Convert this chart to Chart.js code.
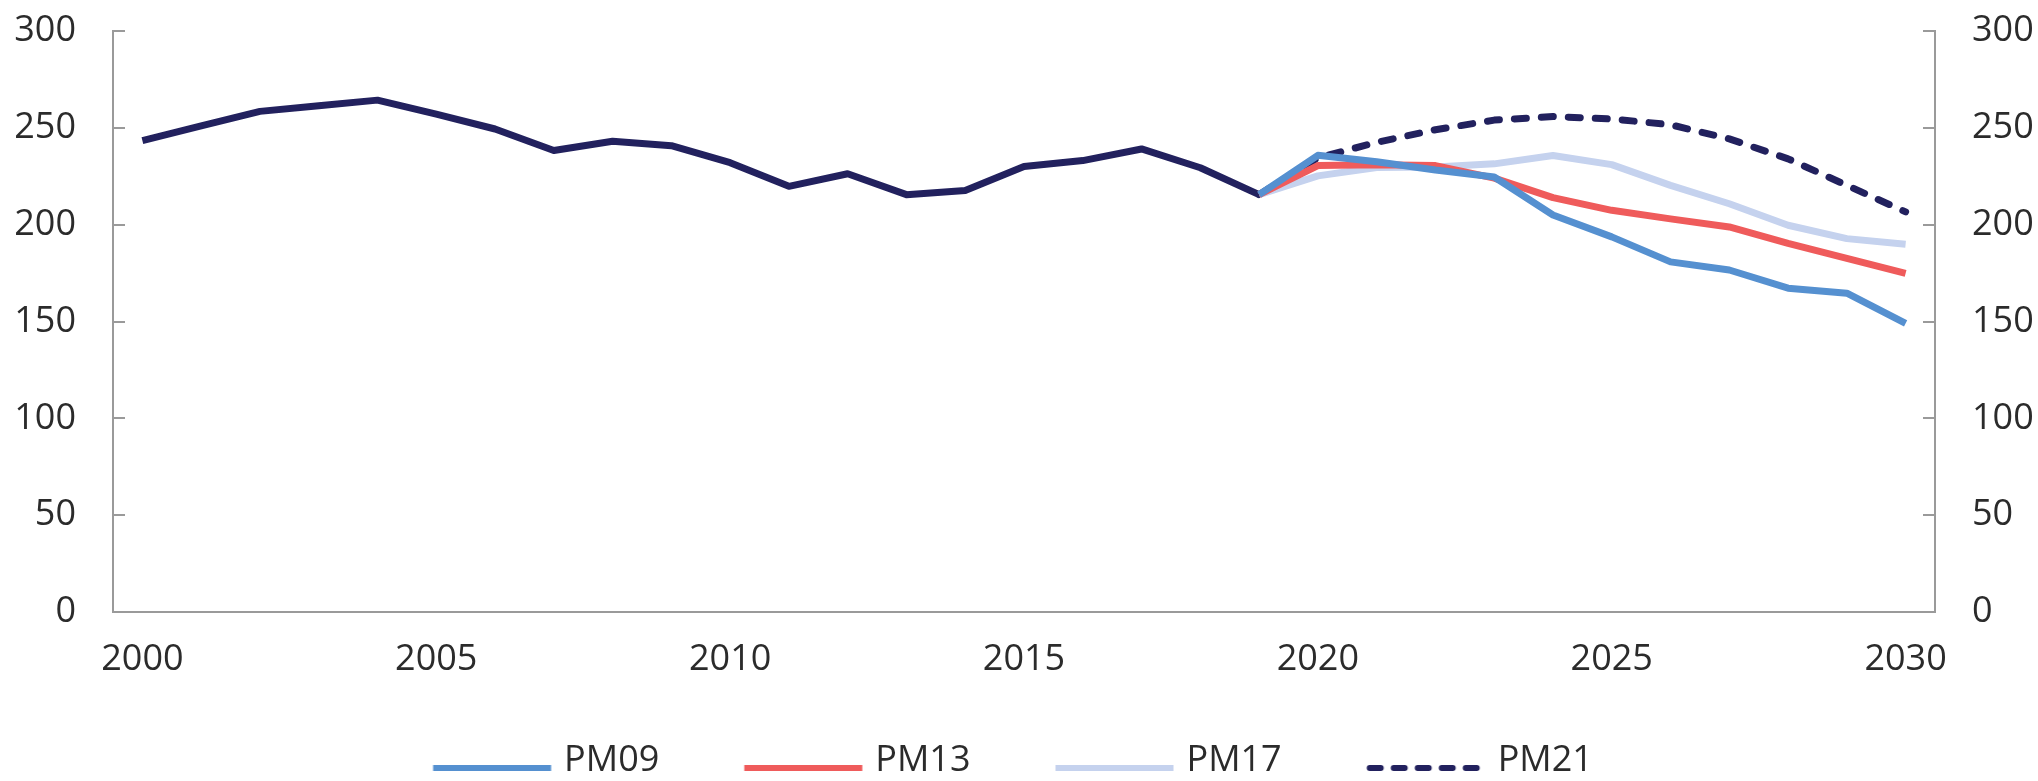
<!DOCTYPE html>
<html>
<head>
<meta charset="utf-8">
<script src="https://cdn.jsdelivr.net/npm/chart.js@4.4.1/dist/chart.umd.min.js"></script>
<style>
  html, body { margin: 0; padding: 0; background: #fff; }
  #wrap { width: 2038px; height: 781px; }
</style>
</head>
<body>
<div id="wrap"><canvas id="chart" width="2038" height="781"></canvas></div>
<script>
const years = [];
for (let y = 2000; y <= 2030; y++) years.push(String(y));
const xTickLabels = ['2000', '2005', '2010', '2015', '2020', '2025', '2030'];
const yTicks = [0, 50, 100, 150, 200, 250, 300];

// history 2000-2019
const history = [243.4, 251, 258.5, 261.4, 264.3, 257.1, 249.4, 238.3, 243.1, 240.8,
                 232, 219.8, 226.3, 215.5, 217.7, 230, 233.1, 239.1, 229.4, 215.5];
// projections 2019-2030
const pm09 = [215.5, 235.8, 232.5, 228.2, 224.6, 205, 193.7, 180.8, 176.6, 167.2, 164.6, 149];
const pm13 = [215.5, 230.5, 231, 230.5, 224, 214, 207.4, 203, 198.8, 190.3, 182.6, 174.8];
const pm17 = [215.5, 225.2, 229.5, 229.8, 231.4, 235.7, 231, 220.3, 210.8, 199.7, 192.8, 189.9];
const pm21 = [215.5, 234.5, 242.5, 249, 254, 255.8, 254.6, 251.6, 244.3, 234, 220.3, 206.6];
const legendNames = ['PM09', 'PM13', 'PM17', 'PM21'];

const navy = '#22215e';
const axisColor = '#9a9a9a';
const textColor = '#2b2b2b';
const font = { family: "'Open Sans', sans-serif", size: 36 };
const lineW = 7;
const dash = [12, 15];

const padHist = arr => arr.concat(Array(years.length - arr.length).fill(null));
const padProj = arr => Array(years.length - arr.length).fill(null).concat(arr);

// legend sample: 118px line, sitting a bit below the text middle
const sampleWidth = 131;
const makeSample = (color, lineDash) => {
  const c = document.createElement('canvas');
  c.width = 300; c.height = 60;
  const g = c.getContext('2d');
  const x0 = 150 + (18 - sampleWidth / 2);
  g.strokeStyle = color;
  g.lineWidth = 6;
  g.lineCap = lineDash ? 'round' : 'butt';
  if (lineDash) g.setLineDash([11, 13]);
  g.beginPath();
  g.moveTo(x0 + (lineDash ? 3 : 0), 37);
  g.lineTo(x0 + 118, 37);
  g.stroke();
  return c;
};

const innerTicks = {
  id: 'innerTicks',
  afterLayout(chart) {
    // legend sits slightly left of centre in the original
    chart.legend.left -= 20;
    chart.legend.right -= 20;
  },
  afterDraw(chart) {
    const ctx = chart.ctx;
    const area = chart.chartArea;
    ctx.save();
    ctx.strokeStyle = axisColor;
    ctx.lineWidth = 2;
    ['y', 'y2'].forEach(id => {
      const s = chart.scales[id];
      const x0 = id === 'y' ? area.left : area.right;
      const dir = id === 'y' ? 1 : -1;
      s.ticks.forEach(t => {
        const py = Math.round(s.getPixelForValue(t.value));
        ctx.beginPath();
        ctx.moveTo(x0, py);
        ctx.lineTo(x0 + dir * 12, py);
        ctx.stroke();
      });
    });
    ctx.restore();
  }
};

const line = (label, data, color, extra) => Object.assign({
  label, data, borderColor: color, backgroundColor: color,
  borderWidth: lineW, pointRadius: 0, tension: 0, fill: false,
  borderJoinStyle: 'round'
}, extra || {});

const yAxis = (position) => ({
  position, min: 0, max: 300,
  afterBuildTicks: s => { s.ticks = yTicks.map(v => ({ value: v })); },
  afterFit: s => { s.width = 99; s.paddingTop = 0; s.paddingBottom = 0; },
  grid: { display: false, drawTicks: false },
  border: { display: true, color: axisColor, width: 2 },
  ticks: { color: textColor, font, padding: 37 }
});

new Chart(document.getElementById('chart'), {
  type: 'line',
  data: {
    labels: years,
    datasets: [
      line('PM09', padProj(pm09), '#5590d0', { pointStyle: makeSample('#5590d0') }),
      line('PM13', padProj(pm13), '#ef5b5b', { pointStyle: makeSample('#ef5b5b') }),
      line('PM17', padProj(pm17), '#c5d2ee', { pointStyle: makeSample('#c5d2ee') }),
      line('PM21', padProj(pm21), navy, { borderDash: dash, borderCapStyle: 'round', pointStyle: makeSample(navy, true) }),
      line('Historikk', padHist(history), navy)
    ]
  },
  options: {
    responsive: false,
    animation: false,
    devicePixelRatio: 1,
    layout: { padding: { top: 31, left: 14, right: 4, bottom: 0 } },
    plugins: {
      tooltip: { enabled: false },
      legend: {
        position: 'bottom',
        maxHeight: 105,
        labels: {
          usePointStyle: true,
          pointStyleWidth: sampleWidth,
          padding: 67,
          color: textColor,
          font,
          filter: item => legendNames.includes(item.text)
        }
      }
    },
    scales: {
      x: {
        offset: true,
        afterFit: s => { s.height = 64; },
        grid: { display: false, drawTicks: false },
        border: { display: true, color: axisColor, width: 2 },
        ticks: {
          autoSkip: false, maxRotation: 0, color: textColor, font, padding: 26,
          callback: function (v) {
            const lab = this.getLabelForValue(v);
            return xTickLabels.includes(lab) ? lab : '';
          }
        }
      },
      y: yAxis('left'),
      y2: yAxis('right')
    }
  },
  plugins: [innerTicks]
});
</script>
</body>
</html>
